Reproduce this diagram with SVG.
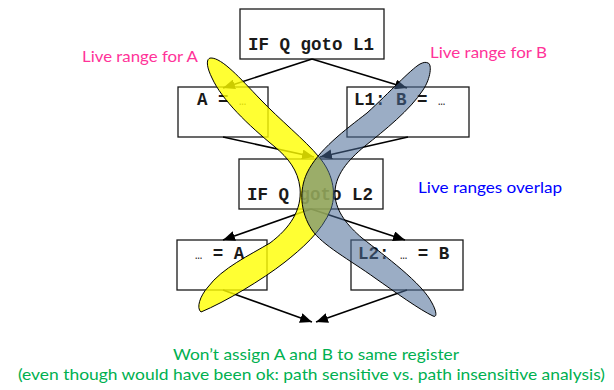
<svg xmlns="http://www.w3.org/2000/svg" width="614" height="390" viewBox="0 0 614 390">
<style>
.box{fill:#fff;stroke:#1a1a1a;stroke-width:1.3}
.code{font-family:"Liberation Mono","Courier New",monospace;font-weight:bold;font-size:17.5px;fill:#1a1a1a}
.ell{font-weight:normal;font-size:12px}
.edge{stroke:#000;stroke-width:1.6;fill:none;marker-end:url(#ah)}
.lbl{font-family:Lato,"Noto Sans",sans-serif;font-size:16px}
.pink{fill:#FF3399}
.blue{fill:#0000FF}
.green{fill:#00B050}
.rangeA{fill:#FFFF00;fill-opacity:0.8;stroke:#000;stroke-width:1}
.rangeB{fill:#496A96;fill-opacity:0.55;stroke:#000;stroke-width:1}
</style>
<defs>
<marker id="ah" markerWidth="12" markerHeight="10" refX="12" refY="5" orient="auto" markerUnits="userSpaceOnUse">
<path d="M0,0 L12,5 L0,10 z" fill="#000"/>
</marker>
</defs>
<rect width="614" height="390" fill="#fff"/>

<g id="n_top"><rect class="box" x="240" y="9" width="144" height="50"/><text class="code" x="248" y="50">IF Q goto L1</text></g>
<g id="n_A"><rect class="box" x="178" y="87" width="90" height="50"/><text class="code" x="197" y="105">A = <tspan class="ell">…</tspan></text></g>
<g id="n_L1"><rect class="box" x="347" y="87" width="122" height="50"/><text class="code" x="354" y="105">L1: B = <tspan class="ell">…</tspan></text></g>
<g id="n_mid"><rect class="box" x="239" y="159" width="144" height="50"/><text class="code" x="247" y="200">IF Q goto L2</text></g>
<g id="n_useA"><rect class="box" x="177" y="240" width="90" height="50"/><text class="code" x="195" y="259"><tspan class="ell">…</tspan> = A</text></g>
<g id="n_L2"><rect class="box" x="351" y="240" width="112" height="50"/><text class="code" x="358" y="259">L2: <tspan class="ell">…</tspan> = B</text></g>

<g id="connectors">
<path class="edge" d="M312,59 L223,88"/>
<path class="edge" d="M312,59 L407,88"/>
<path class="edge" d="M223,137 L314,157"/>
<path class="edge" d="M408,137 L320,157"/>
<path class="edge" d="M311,209 L223,240"/>
<path class="edge" d="M311,209 L405,240"/>
<path class="edge" d="M223,290 L312,322"/>
<path class="edge" d="M407,290 L316,322"/>
</g>

<g id="liveA">
<path class="rangeA" d="M211,58 C222,58 240,78 260,99 C280,120 305,140 319,157 C332,172 337,192 331,209 C322,232 300,250 285,262 C262,280 225,302 201,312 C196,308 200,296 208,287 C222,268 250,255 270,243 C290,228 302,210 300,188 C298,170 288,158 275,147 C248,125 222,100 212,78 C206,66 206,58 211,58 Z"/>
</g>
<g id="liveB">
<path class="rangeB" d="M428,63 C432,64 431,78 423,90 C410,110 385,130 365,146 C348,160 334,176 335,195 C336,212 348,226 362,238 C385,256 422,283 432,303 C437,312 437,318 433,316 C420,310 395,292 375,278 C350,260 322,245 312,230 C300,212 299,190 307,173 C318,150 345,130 367,113 C390,92 410,70 420,64 C424,62 426,62 428,63 Z"/>
</g>

<g id="labels">
<text class="lbl pink" x="82" y="62" textLength="116" lengthAdjust="spacingAndGlyphs">Live range for A</text>
<text class="lbl pink" x="430" y="58" textLength="117" lengthAdjust="spacingAndGlyphs">Live range for B</text>
<text class="lbl blue" x="418" y="193" textLength="144" lengthAdjust="spacingAndGlyphs">Live ranges overlap</text>
<text class="lbl green" x="173" y="360" textLength="286" lengthAdjust="spacingAndGlyphs">Won’t assign A and B to same register</text>
<text class="lbl green" x="18" y="380" textLength="587" lengthAdjust="spacingAndGlyphs">(even though would have been ok: path sensitive vs. path insensitive analysis)</text>
</g>
</svg>
